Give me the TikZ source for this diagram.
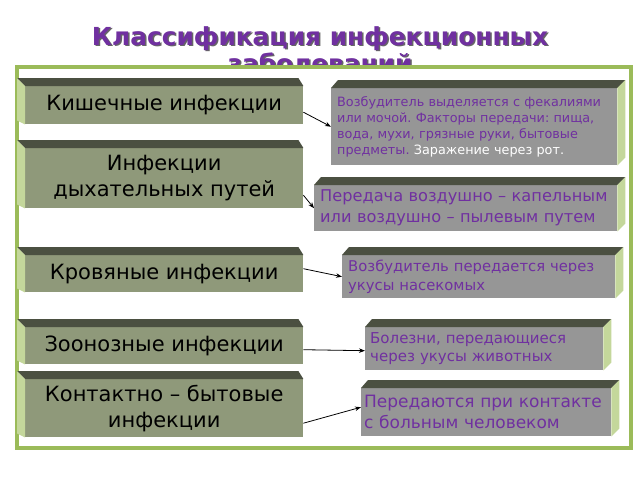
\documentclass[tikz,border=0pt]{standalone}
\usepackage{fontspec}
\setmainfont{DejaVu Sans}
\usetikzlibrary{calc,arrows.meta}
\frenchspacing
\definecolor{framec}{HTML}{9BBB59}
\definecolor{lfrontc}{HTML}{8F997A}
\definecolor{topc}{HTML}{4B5041}
\definecolor{sidec}{HTML}{C4D79B}
\definecolor{rfrontc}{HTML}{969696}
\definecolor{purp}{HTML}{7030A0}
\newcommand\lfaces[1]{%
  \fill[topc] (#1.north west) -- ++(-8,-8) -- ($(#1.north east)+(-5,-8)$) -- (#1.north east) -- cycle;
  \fill[sidec] (#1.north west) -- ++(-8,-8) -- ($(#1.south west)+(-8,-4)$) -- (#1.south west) -- cycle;}
\newcommand\rfaces[1]{%
  \fill[topc] (#1.north west) -- ++(7,-8) -- ($(#1.north east)+(8,-8)$) -- (#1.north east) -- cycle;
  \fill[sidec] (#1.north east) -- ++(8,-8) -- ($(#1.south east)+(8,-8)$) -- (#1.south east) -- cycle;}
\tikzset{
  lfront/.style={fill=lfrontc, minimum width=278pt, anchor=north west, inner sep=0pt, align=center,
    font=\fontsize{21}{26}\selectfont},
  rfront/.style={fill=rfrontc, anchor=north west, inner xsep=6pt, inner ysep=0pt, align=left, text=purp},
  conn/.style={-{Stealth[length=6pt,width=4.5pt]}, line width=0.8pt, black},
  ttl/.style={font=\fontsize{24.8}{26}\selectfont\bfseries, text=purp, anchor=base},
  ttlshadow/.style={font=\fontsize{24.8}{26}\selectfont\bfseries, text=black!60, anchor=base},
}
\begin{document}
\begin{tikzpicture}[x=1pt,y=-1pt]
\useasboundingbox[fill=white] (0,0) rectangle (640,480);
% title
\node[ttlshadow] (t1s) at (321.5,46.5) {Классификация инфекционных};
\node[ttlshadow] (t2s) at (321.5,73.5) {заболеваний};
\node[ttl] (t1) at (320,45) {Классификация инфекционных};
\node[ttl] (t2) at (320,72) {заболеваний};
% frame
\node[draw=framec, line width=4pt, fill=white, minimum width=613.5pt, minimum height=381pt, inner sep=0pt, anchor=north west] (frame) at (15,64.5) {};
% left boxes
\node[lfront, minimum height=38pt] (l1) at (25,86) {Кишечные инфекции};
\node[lfront, minimum height=60pt] (l2) at (25,148) {Инфекции\\дыхательных путей};
\node[lfront, minimum height=37pt] (l3) at (25,255) {Кровяные инфекции};
\node[lfront, minimum height=37pt] (l4) at (25,327) {Зоонозные инфекции};
\node[lfront, minimum height=58pt] (l5) at (25,379) {Контактно – бытовые\\инфекции};
\lfaces{l1}\lfaces{l2}\lfaces{l3}\lfaces{l4}\lfaces{l5}
% right boxes
\node[rfront, minimum width=286pt, minimum height=77pt, text width=274pt, font=\fontsize{12.8}{16}\selectfont] (r1) at (331,88)
  {Возбудитель выделяется с фекалиями\\или мочой. Факторы передачи: пища,\\вода, мухи, грязные руки, бытовые\\предметы. \textcolor{white}{Заражение через рот.}};
\node[rfront, minimum width=303pt, minimum height=46pt, text width=291pt, font=\fontsize{16.2}{21}\selectfont] (r2) at (314,185)
  {Передача воздушно – капельным\\или воздушно – пылевым путем};
\node[rfront, minimum width=273pt, minimum height=43pt, text width=261pt, font=\fontsize{14.8}{19}\selectfont] (r3) at (342,255)
  {Возбудитель передается через\\укусы насекомых};
\node[rfront, minimum width=238pt, minimum height=43pt, text width=228pt, inner xsep=5pt, font=\fontsize{15}{18}\selectfont] (r4) at (365,327)
  {Болезни, передающиеся\\через укусы животных};
\node[rfront, minimum width=250pt, minimum height=48pt, text width=244pt, inner xsep=3pt, font=\fontsize{17}{21}\selectfont] (r5) at (361,388)
  {Передаются при контакте\\с больным человеком};
\rfaces{r1}\rfaces{r2}\rfaces{r3}\rfaces{r4}\rfaces{r5}
% connectors
\draw[conn] ($(l1.east)+(0,7)$) -- (r1.west);
\draw[conn] ($(l2.east)+(0,17)$) -- (r2.west);
\draw[conn] ($(l3.east)+(0,-5)$) -- (r3.west);
\draw[conn] ($(l4.east)+(0,4)$) -- ($(r4.west)+(0,2)$);
\draw[conn] ($(l5.east)+(0,15)$) -- ($(r5.west)+(0,-5)$);
\end{tikzpicture}
\end{document}
